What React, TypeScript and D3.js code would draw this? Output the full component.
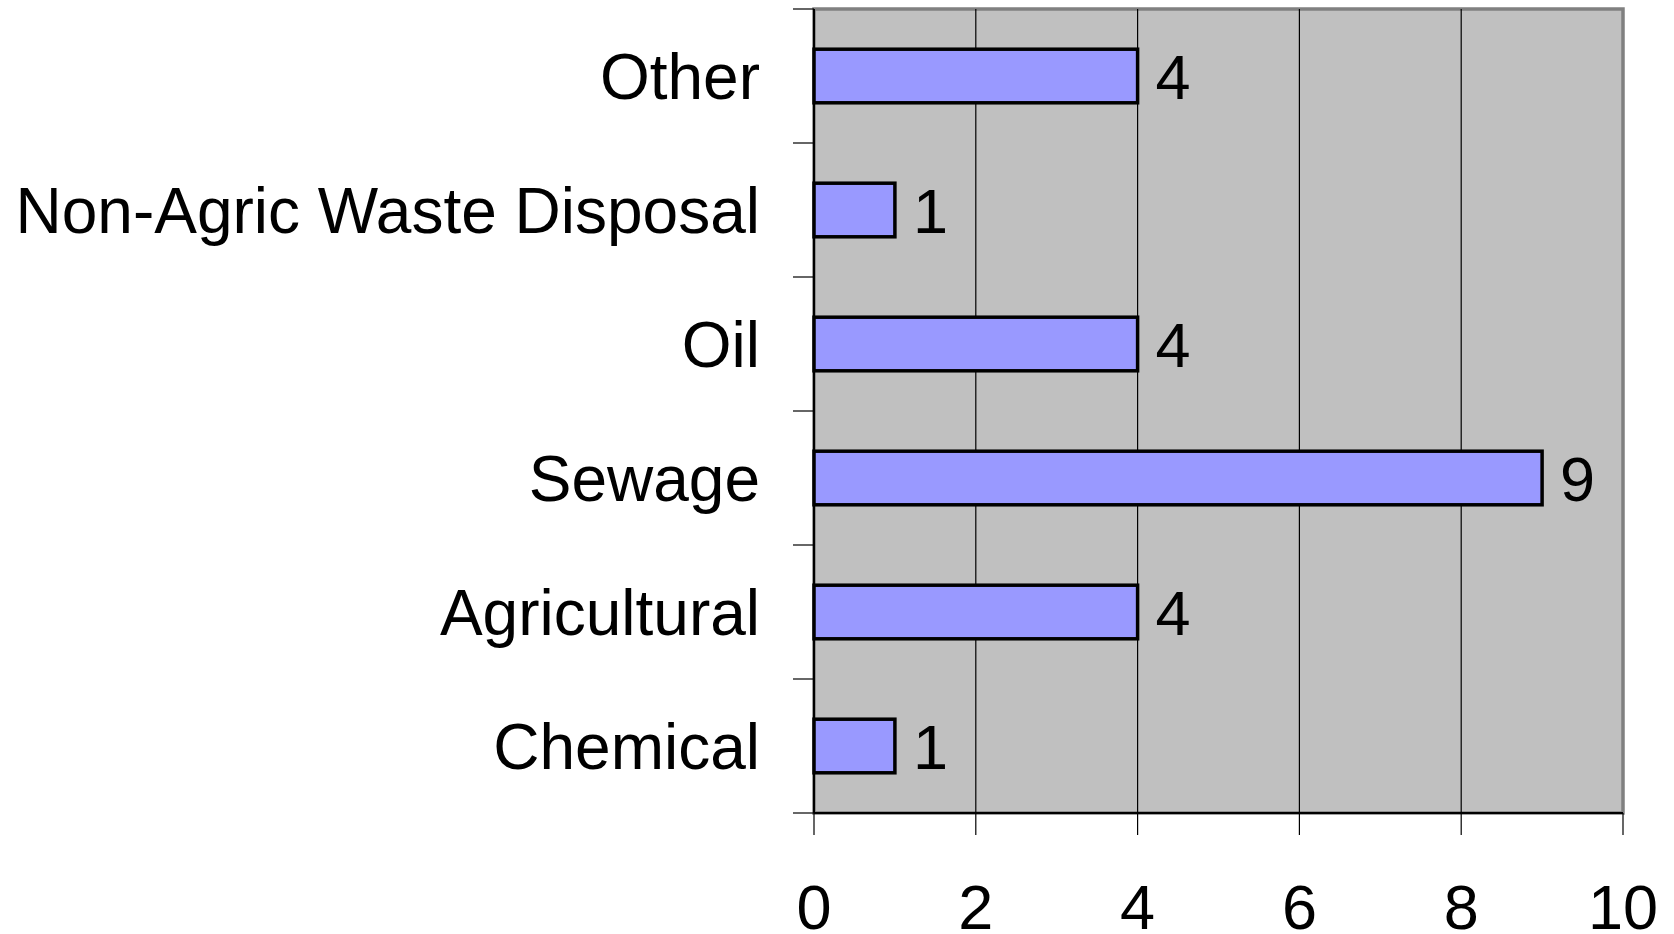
import React, { useEffect, useRef } from 'react';
import * as d3 from 'd3';

const categories = ['Other', 'Non-Agric Waste Disposal', 'Oil', 'Sewage', 'Agricultural', 'Chemical'];
const values = [4, 1, 4, 9, 4, 1];
const xTicks = [0, 2, 4, 6, 8, 10];

export default function App() {
  const svgRef = useRef<SVGSVGElement>(null);

  useEffect(() => {
    if (!svgRef.current) return;
    const svg = d3.select(svgRef.current);
    svg.selectAll('*').remove();

    const left = 814, right = 1623, top = 9, bottom = 813;
    const font = '"Liberation Sans", Arial, sans-serif';

    const x = d3.scaleLinear().domain([0, 10]).range([left, right]);
    const y = d3.scaleBand<string>().domain(categories).range([top, bottom])
      .paddingInner(0.6).paddingOuter(0.3);

    // plot background
    svg.append('rect').attr('x', left).attr('y', top).attr('width', right - left).attr('height', bottom - top)
      .attr('fill', '#c0c0c0').attr('stroke', '#808080').attr('stroke-width', 3.5);

    // gridlines
    svg.selectAll('.grid').data(xTicks.filter(d => d > 0 && d < 10)).enter().append('line')
      .attr('x1', d => x(d)).attr('x2', d => x(d)).attr('y1', top).attr('y2', bottom)
      .attr('stroke', '#000').attr('stroke-width', 1.2);

    // axis lines
    svg.append('line').attr('x1', left).attr('x2', left).attr('y1', top).attr('y2', bottom)
      .attr('stroke', '#000').attr('stroke-width', 2);
    svg.append('line').attr('x1', left).attr('x2', right).attr('y1', bottom).attr('y2', bottom)
      .attr('stroke', '#000').attr('stroke-width', 2);

    // y ticks at band boundaries
    const step = y.step();
    const yb = d3.range(categories.length + 1).map(i => top + i * step);
    svg.selectAll('.ytick').data(yb).enter().append('line')
      .attr('x1', left - 21).attr('x2', left).attr('y1', d => d).attr('y2', d => d)
      .attr('stroke', '#000').attr('stroke-width', 1.2);

    // x ticks
    svg.selectAll('.xtick').data(xTicks).enter().append('line')
      .attr('x1', d => x(d)).attr('x2', d => x(d)).attr('y1', bottom).attr('y2', bottom + 22)
      .attr('stroke', '#000').attr('stroke-width', 1.2);

    svg.selectAll('.xlabel').data(xTicks).enter().append('text')
      .attr('x', d => x(d)).attr('y', 929).attr('text-anchor', 'middle')
      .attr('font-family', font).attr('font-size', 63).attr('fill', '#000')
      .text(d => d);

    // bars
    const bh = y.bandwidth();
    svg.selectAll('.bar').data(categories).enter().append('rect')
      .attr('x', x(0)).attr('y', d => y(d)!)
      .attr('width', (d, i) => x(values[i]) - x(0)).attr('height', bh)
      .attr('fill', '#9999ff').attr('stroke', '#000').attr('stroke-width', 3.5);

    // value labels
    svg.selectAll('.val').data(categories).enter().append('text')
      .attr('x', (d, i) => x(values[i]) + 18).attr('y', d => y(d)! + bh / 2 + 23)
      .attr('font-family', font).attr('font-size', 63).attr('fill', '#000')
      .text((d, i) => values[i]);

    // category labels
    svg.selectAll('.cat').data(categories).enter().append('text')
      .attr('x', 760).attr('y', d => y(d)! + bh / 2 + 23).attr('text-anchor', 'end')
      .attr('font-family', font).attr('font-size', 64).attr('fill', '#000')
      .text(d => d);
  }, []);

  return (
    <div style={{ position: 'fixed', left: 0, top: 0, background: '#fff' }}>
      <svg ref={svgRef} width={1674} height={934} style={{ display: 'block' }}></svg>
    </div>
  );
}
